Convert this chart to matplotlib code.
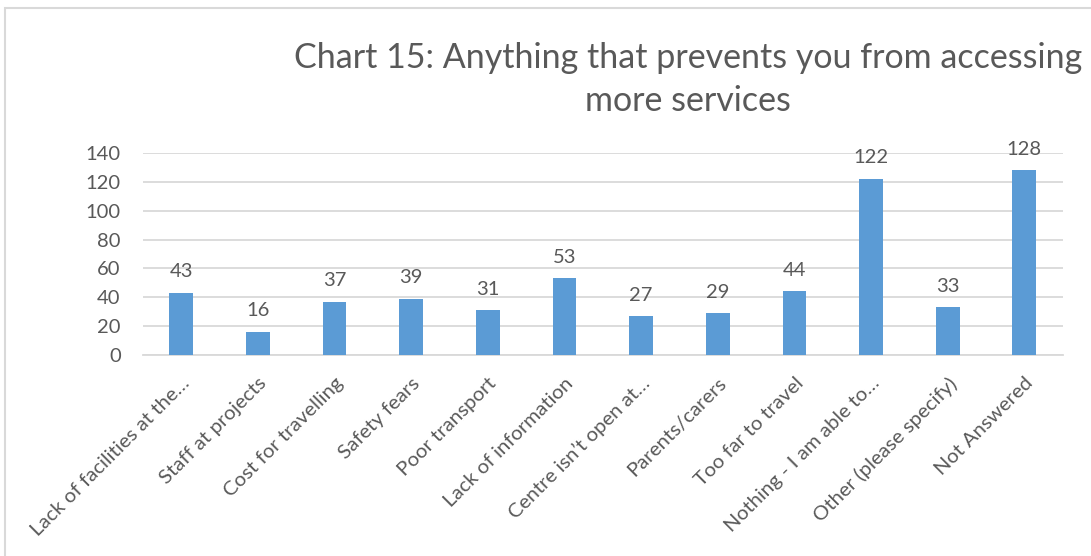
import matplotlib.pyplot as plt
from matplotlib.patches import Rectangle

categories = [
    "Lack of facilities at the…",
    "Staff at projects",
    "Cost for travelling",
    "Safety fears",
    "Poor transport",
    "Lack of information",
    "Centre isn’t open at…",
    "Parents/carers",
    "Too far to travel",
    "Nothing - I am able to…",
    "Other (please specify)",
    "Not Answered",
]
counts = [43, 16, 37, 39, 31, 53, 27, 29, 44, 122, 33, 128]
yticks = [0, 20, 40, 60, 80, 100, 120, 140]
title_lines = ["Chart 15: Anything that prevents you from accessing", "more services"]

text_col = "#595959"
bar_col = "#5B9BD5"
grid_col = "#D9D9D9"

plt.rcParams["font.family"] = ["Lato", "DejaVu Sans"]

W, H = 1091, 556
fig = plt.figure(figsize=(W / 100, H / 100), dpi=100)
ax = fig.add_axes([0.131, 0.3615, 0.843, 0.3635])

x = list(range(len(categories)))
ax.bar(x, counts, width=0.31, color=bar_col, zorder=3)

# value labels above each bar
for xi, v in zip(x, counts):
    ax.annotate(str(v), (xi, v), xytext=(0, 9), textcoords="offset points",
                ha="center", va="bottom", fontsize=14.5, color=text_col)

ax.set_xlim(-0.5, len(categories) - 0.5)
ax.set_ylim(0, 140)
ax.set_yticks(yticks)
ax.set_yticklabels([str(t) for t in yticks], fontsize=14.5, color=text_col)
ax.yaxis.grid(True, color=grid_col, linewidth=1.3, zorder=0)
ax.tick_params(axis="y", length=0, pad=16)
ax.tick_params(axis="x", length=0, pad=14)
ax.set_xticks(x)
ax.set_xticklabels(categories, rotation=45, ha="right", rotation_mode="anchor",
                   fontsize=14.7, color=text_col)

for s in ["left", "right", "top"]:
    ax.spines[s].set_visible(False)
ax.spines["bottom"].set_color(grid_col)
ax.spines["bottom"].set_linewidth(1.3)

# two-line title, baselines placed in pixels from the top
for line, base in zip(title_lines, [68, 111]):
    fig.text(688 / W, 1 - base / H, line, ha="center", va="baseline",
             fontsize=24.5, color=text_col)

# chart frame
fig.patches.append(Rectangle((5 / W, -0.1), 1.2, 1.1 - 8 / H,
                             transform=fig.transFigure, fill=False,
                             edgecolor=grid_col, linewidth=1.5))

fig.savefig("out.png", dpi=100)
